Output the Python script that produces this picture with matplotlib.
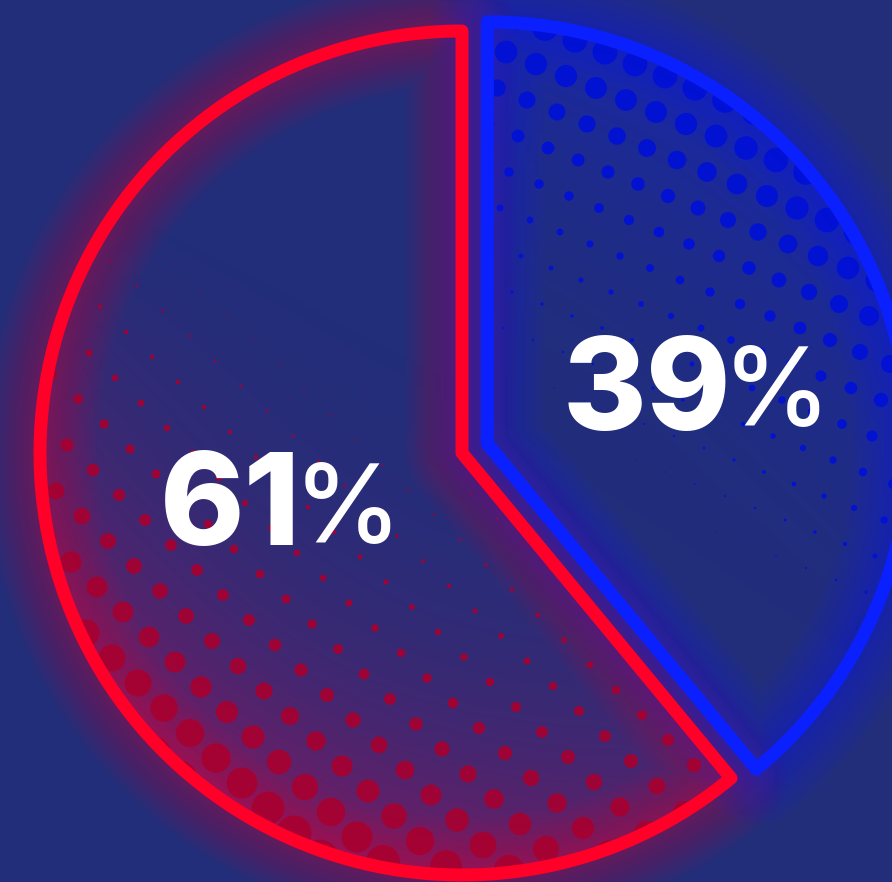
import numpy as np
import matplotlib
matplotlib.use("Agg")
import matplotlib.pyplot as plt
from matplotlib.patches import Wedge

# chart data
shares = [61, 39]
share_labels = ["61", "39"]
slice_colors = ["#ff0028", "#0a20ff"]
dot_colors = ["#a8002f", "#0010d8"]

W, H = 892, 882
BG = "#222e7a"
R = 422
CENTER = (462, H - 453)
EXPLODE = [0, 27]
LW = 13 * 0.72  # 13 px stroke


def to_img(cx, cy):
    return cx, H - cy


def red_level(x, y, c):
    rho = np.hypot(x - c[0], y - c[1]) / R
    lin = np.clip((y - 280) / 560 - (x - 300) / 1200, 0, 1) ** 1.3
    return lin * (0.3 + 0.7 * rho ** 2)


def blue_level(x, y, c):
    rho = np.hypot(x - c[0], y - c[1]) / R
    lin = np.clip((450 - y) / 420 + (x - 490) / 700, 0, 1) ** 1.3
    return lin * (0.3 + 0.7 * rho ** 2)


fig = plt.figure(figsize=(W / 100, H / 100), dpi=100)
fig.patch.set_facecolor(BG)
ax = fig.add_axes([0, 0, 1, 1])
ax.set_facecolor(BG)

wedges, _ = ax.pie(shares, startangle=90, counterclock=True, radius=R,
                   center=CENTER, explode=EXPLODE,
                   wedgeprops=dict(fill=False, linewidth=LW, joinstyle="round"))

ax.set_xlim(0, W)
ax.set_ylim(0, H)
ax.set_aspect("equal")
ax.axis("off")

# pixel grid for the soft inner shading
gx, gy = np.meshgrid(np.arange(W) + 0.5, np.arange(H) + 0.5)

levels = [red_level, blue_level]
tints = [(0.80, 0.04, 0.30, 0.55), (0.05, 0.12, 0.90, 0.38)]
lattices = [((26, 25), (37, -21), (97, 587)), ((30, 12), (-9, 36), (506, 52))]
max_r = [18, 13]
glow_alpha = [0.032, 0.04]

for i, w in enumerate(wedges):
    w.set_edgecolor(slice_colors[i])
    w.set_zorder(5)
    c_img = to_img(*w.center)

    # glow around the outline
    for k in range(1, 12):
        g = Wedge(w.center, w.r, w.theta1, w.theta2, fill=False,
                  edgecolor=slice_colors[i], linewidth=(13 + k * 9) * 0.72,
                  alpha=glow_alpha[i], joinstyle="round", zorder=1)
        ax.add_patch(g)

    clip = Wedge(w.center, w.r, w.theta1, w.theta2, fill=False,
                 edgecolor="none", linewidth=0)
    ax.add_patch(clip)

    # inner shading
    lev = levels[i](gx, gy, c_img)
    rgba = np.zeros((H, W, 4))
    rgba[..., 0], rgba[..., 1], rgba[..., 2] = tints[i][:3]
    rgba[..., 3] = tints[i][3] * lev
    im = ax.imshow(rgba, extent=(0, W, 0, H), origin="upper", zorder=2,
                   interpolation="bilinear")
    im.set_clip_path(clip)

    # halftone dots
    a, b, o = lattices[i]
    ii, jj = np.meshgrid(np.arange(-45, 46), np.arange(-45, 46))
    px = o[0] + ii * a[0] + jj * b[0]
    py = o[1] + ii * a[1] + jj * b[1]
    px, py = px.ravel(), py.ravel()
    keep = (px > -20) & (px < W + 20) & (py > -20) & (py < H + 20)
    px, py = px[keep], py[keep]
    rad = max_r[i] * levels[i](px, py, c_img)
    keep = rad > 0.45
    px, py, rad = px[keep], py[keep], rad[keep]
    sc = ax.scatter(px, H - py, s=(2 * rad * 0.72) ** 2, color=dot_colors[i],
                    alpha=0.9, linewidths=0, zorder=3)
    sc.set_clip_path(clip)

# labels
txt = dict(color="white", zorder=6, ha="left", va="baseline", family=["Inter", "DejaVu Sans"])
ax.text(160, H - 545, share_labels[0], fontsize=92, fontweight="heavy", **txt)
ax.text(294, H - 543, "%", fontsize=78, fontweight="medium", **txt)
ax.text(563, H - 430, share_labels[1], fontsize=92, fontweight="heavy", **txt)
ax.text(723, H - 426, "%", fontsize=78, fontweight="medium", **txt)

fig.savefig("out.png", dpi=100, facecolor=BG)
